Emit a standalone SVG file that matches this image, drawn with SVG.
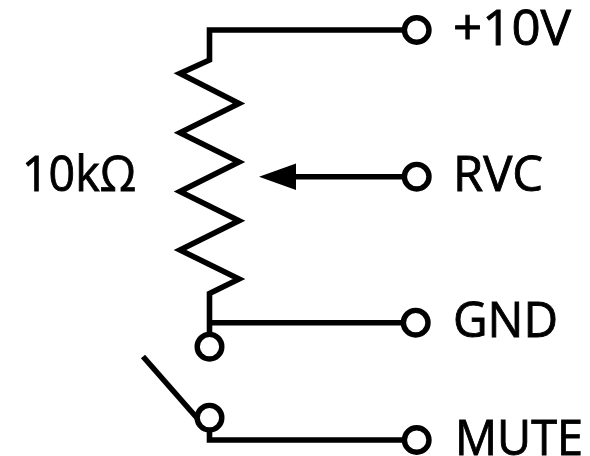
<svg xmlns="http://www.w3.org/2000/svg" width="590" height="456" viewBox="0 0 590 456">
<style>
.w{fill:none;stroke:#000;stroke-width:5.600;stroke-miterlimit:10}
.t{fill:#fff;stroke:#000;stroke-width:5.400}
text{font-family:"Open Sans","Noto Sans",sans-serif;font-size:50px;fill:#000;stroke:#000;stroke-width:0.9}
</style>
<rect width="590" height="456" fill="#fff"/>
<g id="connectors">
<path class="w" d="M405 30H209.5V60L180 73.500L239 103.500L180 132.700L239 162L180 191.500L239 220.700L180 250L239 279L209.500 293.500V335"/>
<path class="w" d="M209.500 322.700H404"/>
<path class="w" d="M143 356.500L197 418"/>
<path class="w" d="M209.500 428V440H405"/>
<path class="w" d="M290 176.700H405"/>
<polygon points="259,176.700 296,163.500 296,190" fill="#000"/>
</g>
<g id="term-10v"><circle class="t" cx="416.700" cy="30" r="12.300"/><text x="453" y="45" textLength="118" lengthAdjust="spacingAndGlyphs">+10V</text></g>
<g id="term-rvc"><circle class="t" cx="416.700" cy="176.700" r="12.300"/><text x="453" y="191" textLength="90" lengthAdjust="spacingAndGlyphs">RVC</text></g>
<g id="term-gnd"><circle class="t" cx="415.700" cy="322.700" r="12.300"/><text x="453" y="337" textLength="105" lengthAdjust="spacingAndGlyphs">GND</text></g>
<g id="term-mute"><circle class="t" cx="416.700" cy="440" r="12.300"/><text x="455" y="455" textLength="128" lengthAdjust="spacingAndGlyphs">MUTE</text></g>
<g id="sw-top"><circle class="t" cx="209.500" cy="346.700" r="12.300"/></g>
<g id="sw-bottom"><circle class="t" cx="209.500" cy="417.700" r="12.300"/></g>
<g id="label-r"><text x="22" y="191" textLength="114" lengthAdjust="spacingAndGlyphs">10kΩ</text></g>
</svg>
